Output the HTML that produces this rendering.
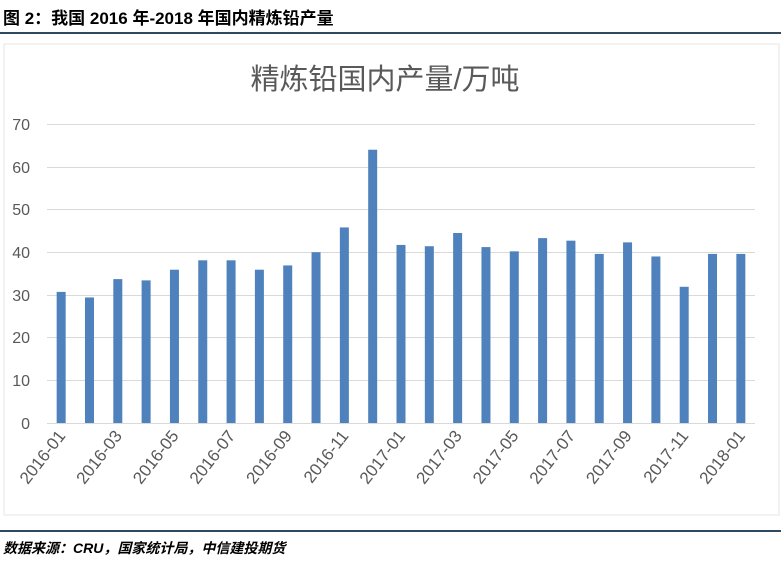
<!DOCTYPE html>
<html><head><meta charset="utf-8"><style>
body{margin:0;background:#fff;width:781px;height:562px;overflow:hidden;font-family:"Liberation Sans","Noto Sans CJK SC",sans-serif}
</style></head><body>
<svg width="781" height="562" xmlns="http://www.w3.org/2000/svg" font-family="Liberation Sans, Noto Sans CJK SC, sans-serif">
<text x="3" y="24" font-size="17" font-weight="bold" fill="#000">图 2：我国 2016 年-2018 年国内精炼铅产量</text>
<rect x="0" y="32" width="781" height="2" fill="#2f4a5e"/>
<rect x="4" y="44" width="775" height="471" fill="none" stroke="#e6e6e6" stroke-width="1"/>
<text x="385" y="89" font-size="29" fill="#595959" text-anchor="middle">精炼铅国内产量/万吨</text>
<g stroke="#d9d9d9" stroke-width="1">
<line x1="47" x2="755" y1="124.5" y2="124.5"/><line x1="47" x2="755" y1="167.5" y2="167.5"/>
<line x1="47" x2="755" y1="209.5" y2="209.5"/><line x1="47" x2="755" y1="252.5" y2="252.5"/>
<line x1="47" x2="755" y1="295.5" y2="295.5"/><line x1="47" x2="755" y1="337.5" y2="337.5"/>
<line x1="47" x2="755" y1="380.5" y2="380.5"/><line x1="47" x2="755" y1="423.5" y2="423.5"/>
</g>
<g font-size="16" fill="#595959" text-anchor="end">
<text x="30" y="130">70</text><text x="30" y="173">60</text><text x="30" y="215">50</text><text x="30" y="258">40</text>
<text x="30" y="301">30</text><text x="30" y="343">20</text><text x="30" y="386">10</text><text x="30" y="429">0</text>
</g>
<g id="bars" fill="#4f81bd"></g>
<g id="labels" font-size="17" fill="#595959" text-anchor="end"></g>
<rect x="0" y="530" width="781" height="2" fill="#2f4a5e"/>
<text x="3" y="553" font-size="14" font-weight="bold" font-style="italic" fill="#000">数据来源：CRU，国家统计局，中信建投期货</text>
</svg>
<script>
var v=[30.7,29.4,33.7,33.4,35.9,38.1,38.1,35.9,36.9,40,45.8,64,41.7,41.4,44.5,41.2,40.2,43.3,42.7,39.6,42.3,39,31.9,39.6,39.6];
var b=document.getElementById('bars'),l=document.getElementById('labels'),ns='http://www.w3.org/2000/svg';
var names=['2016-01','2016-03','2016-05','2016-07','2016-09','2016-11','2017-01','2017-03','2017-05','2017-07','2017-09','2017-11','2018-01'];
for(var i=0;i<25;i++){var cx=47+28.32*(i+0.5);var h=v[i]*4.27;var r=document.createElementNS(ns,'rect');
r.setAttribute('x',cx-4.5);r.setAttribute('width',9);r.setAttribute('y',423-h);r.setAttribute('height',h);b.appendChild(r);
if(i%2==0){var t=document.createElementNS(ns,'text');t.setAttribute('transform','translate('+(cx+5)+',436) rotate(-52)');t.textContent=names[i/2];l.appendChild(t);}}
</script>
</body></html>
